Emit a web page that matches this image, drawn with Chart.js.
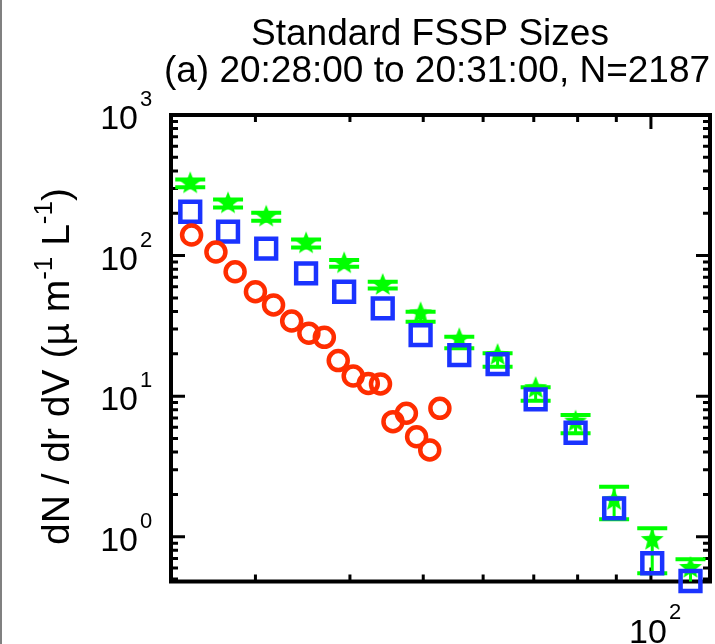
<!DOCTYPE html>
<html>
<head>
<meta charset="utf-8">
<script src="https://cdn.jsdelivr.net/npm/chart.js@4.4.1/dist/chart.umd.min.js"></script>
<style>
  html, body { margin: 0; padding: 0; background: #fff; }
  canvas { display: block; }
</style>
</head>
<body>
<canvas id="chart" width="715" height="644"></canvas>
<script>
// values (radius in um, dN/dr dV)
var redX = [24.7, 26.6, 28.2, 30.0, 31.7, 33.5, 35.3, 37.0, 38.6, 40.4, 42.3, 43.9, 45.6, 47.5, 49.0, 51.0, 52.6];
var redY = [140, 106, 76.7, 55.3, 44.5, 34.2, 28.0, 26.2, 17.9, 13.9, 12.3, 12.2, 6.58, 7.55, 5.14, 4.14, 8.19];

var fsspX = [24.6, 27.6, 31.0, 35.0, 39.3, 44.2, 49.6, 55.8, 62.7, 70.4, 79.5, 89.4, 100.4, 112.8];
var blueY = [205, 148, 112, 74.7, 55.3, 42.1, 27.2, 19.6, 16.9, 9.49, 5.49, 1.59, 0.647, 0.484];
var greenY = [326, 235, 189, 122, 88, 61.7, 38.8, 25.4, 19.6, 11.4, 6.58, 1.82, 0.947, 0.599];
var greenHi = [348, 251, 202, 130, 92.9, 65.1, 39.8, 26.5, 20.2, 11.55, 7.34, 2.27, 1.148, 0.69];
var greenLo = [306, 220, 177, 114, 83.2, 58.4, 33.8, 21.9, 16.2, 9.27, 5.44, 1.33, 0.549, 0.40];

var xMin = 23.2, xMax = 119.7;
var yMin = 0.48, yMax = 1000;
var xMajorTicks = [100];
var xMinorTicks = [30, 40, 50, 60, 70, 80, 90];
var yTickExps = [0, 1, 2, 3];
var xTickExps = [2];

var titleLines = ['Standard FSSP Sizes', '(a) 20:28:00 to 20:31:00, N=2187'];

var FONT = '"Liberation Sans", Arial, Helvetica, sans-serif';

function toPoints(xs, ys) {
    return xs.map(function (x, i) { return { x: x, y: ys[i] }; });
}

// filled five point star used as the green marker
function makeStar(color, R, r) {
    var c = document.createElement('canvas');
    var s = Math.ceil(R * 2 + 2);
    c.width = s; c.height = s;
    var g = c.getContext('2d');
    g.fillStyle = color;
    g.beginPath();
    for (var i = 0; i < 10; i++) {
        var rad = (i % 2 === 0) ? R : r;
        var a = -Math.PI / 2 + i * Math.PI / 5;
        var px = s / 2 + rad * Math.cos(a), py = s / 2 + rad * Math.sin(a);
        if (i === 0) g.moveTo(px, py); else g.lineTo(px, py);
    }
    g.closePath();
    g.fill();
    return c;
}

var yMinorTicks = [];
for (var e = -1; e <= 2; e++) {
    for (var k = 2; k <= 9; k++) {
        var v = k * Math.pow(10, e);
        if (v > yMin && v < yMax) yMinorTicks.push(v);
    }
}
var yMajorTicks = yTickExps.map(function (e) { return Math.pow(10, e); });

var framePlugin = {
    id: 'frame',
    beforeDatasetsDraw: function (chart) {
        var ctx = chart.ctx, a = chart.chartArea;
        var xs = chart.scales.x, ys = chart.scales.y;
        ctx.save();
        ctx.strokeStyle = '#000';
        ctx.lineWidth = 3;
        function tickX(v, len) {
            var px = xs.getPixelForValue(v);
            ctx.beginPath();
            ctx.moveTo(px, a.bottom); ctx.lineTo(px, a.bottom - len);
            ctx.moveTo(px, a.top); ctx.lineTo(px, a.top + len);
            ctx.stroke();
        }
        function tickY(v, len) {
            var py = ys.getPixelForValue(v);
            ctx.beginPath();
            ctx.moveTo(a.left, py); ctx.lineTo(a.left + len, py);
            ctx.moveTo(a.right, py); ctx.lineTo(a.right - len, py);
            ctx.stroke();
        }
        xMinorTicks.forEach(function (v) { tickX(v, 7); });
        xMajorTicks.forEach(function (v) { tickX(v, 14); });
        yMinorTicks.forEach(function (v) { tickY(v, 7); });
        yMajorTicks.forEach(function (v) { tickY(v, 14); });
        ctx.lineWidth = 4;
        ctx.strokeRect(a.left, a.top, a.right - a.left, a.bottom - a.top);

        // green error bars
        ctx.beginPath();
        ctx.rect(a.left, a.top, a.right - a.left, a.bottom - a.top);
        ctx.clip();
        ctx.strokeStyle = '#00ff00';
        fsspX.forEach(function (x, i) {
            var px = xs.getPixelForValue(x);
            var hi = ys.getPixelForValue(greenHi[i]);
            var lo = ys.getPixelForValue(greenLo[i]);
            ctx.lineWidth = 3;
            ctx.beginPath();
            ctx.moveTo(px, hi); ctx.lineTo(px, lo);
            ctx.stroke();
            ctx.lineWidth = 4;
            ctx.beginPath();
            ctx.moveTo(px - 15, hi); ctx.lineTo(px + 15, hi);
            ctx.moveTo(px - 15, lo); ctx.lineTo(px + 15, lo);
            ctx.stroke();
        });
        ctx.restore();
    },
    afterDraw: function (chart) {
        var ctx = chart.ctx;
        var xs = chart.scales.x, ys = chart.scales.y;
        ctx.save();
        ctx.fillStyle = '#808080';
        ctx.fillRect(0, 0, 2, 644);
        ctx.fillStyle = '#000';

        // titles
        ctx.textAlign = 'center';
        ctx.textBaseline = 'alphabetic';
        ctx.font = '37px ' + FONT;
        ctx.fillText(titleLines[0], 430, 45);
        ctx.font = '37px ' + FONT;
        ctx.fillText(titleLines[1], 437, 82);

        // y tick labels
        yTickExps.forEach(function (e) {
            var py = ys.getPixelForValue(Math.pow(10, e));
            ctx.font = '34px ' + FONT;
            ctx.textAlign = 'right';
            ctx.fillText('10', 138, py + 14);
            ctx.font = '22px ' + FONT;
            ctx.textAlign = 'left';
            ctx.fillText(String(e), 140, py - 9);
        });

        // x tick labels
        xTickExps.forEach(function (e) {
            var px = xs.getPixelForValue(Math.pow(10, e));
            ctx.font = '34px ' + FONT;
            ctx.textAlign = 'right';
            ctx.fillText('10', px + 16, 643);
            ctx.font = '22px ' + FONT;
            ctx.textAlign = 'left';
            ctx.fillText(String(e), px + 18, 619);
        });

        // y axis title, rotated
        ctx.translate(69, 545);
        ctx.rotate(-Math.PI / 2);
        ctx.textAlign = 'left';
        var parts = [['dN / dr dV (', 0], ['\u00b5', 0], [' m', 0], ['-1', 1], [' L', 0], ['-1', 1], [')', 0]];
        var cx = 0;
        parts.forEach(function (p) {
            ctx.font = (p[1] ? '26px ' : '39px ') + FONT;
            ctx.fillText(p[0], cx, p[1] ? -17 : 0);
            cx += ctx.measureText(p[0]).width;
        });
        ctx.restore();
    }
};

var ctx = document.getElementById('chart').getContext('2d');
var chart = new Chart(ctx, {
    type: 'scatter',
    data: {
        datasets: [{
            label: 'red',
            data: toPoints(redX, redY),
            pointStyle: 'circle',
            pointRadius: 9.5,
            pointBorderWidth: 4.5,
            borderColor: '#ff2d00',
            backgroundColor: 'rgba(0,0,0,0)',
            order: 0,
            clip: false
        }, {
            label: 'blue',
            data: toPoints(fsspX, blueY),
            pointStyle: 'rect',
            pointRadius: 14,
            pointBorderWidth: 4.5,
            borderColor: '#1a33ff',
            backgroundColor: 'rgba(0,0,0,0)',
            order: 1,
            clip: false
        }, {
            label: 'green',
            data: toPoints(fsspX, greenY),
            pointStyle: makeStar('#00ff00', 12, 5.2),
            pointRadius: 12,
            borderColor: '#00ff00',
            backgroundColor: '#00ff00',
            order: 2,
            clip: false
        }]
    },
    options: {
        responsive: false,
        animation: false,
        devicePixelRatio: 1,
        layout: { autoPadding: false, padding: { top: 115, right: 5, left: 0, bottom: 0 } },
        plugins: {
            legend: { display: false },
            tooltip: { enabled: false },
            title: { display: false }
        },
        scales: {
            x: {
                type: 'logarithmic',
                min: xMin,
                max: xMax,
                bounds: 'data',
                ticks: { display: false },
                grid: { display: false },
                border: { display: false },
                afterFit: function (s) { s.height = 62.5; }
            },
            y: {
                type: 'logarithmic',
                min: yMin,
                max: yMax,
                bounds: 'data',
                ticks: { display: false },
                grid: { display: false },
                border: { display: false },
                afterFit: function (s) { s.width = 171; }
            }
        }
    },
    plugins: [framePlugin]
});
</script>
</body>
</html>
